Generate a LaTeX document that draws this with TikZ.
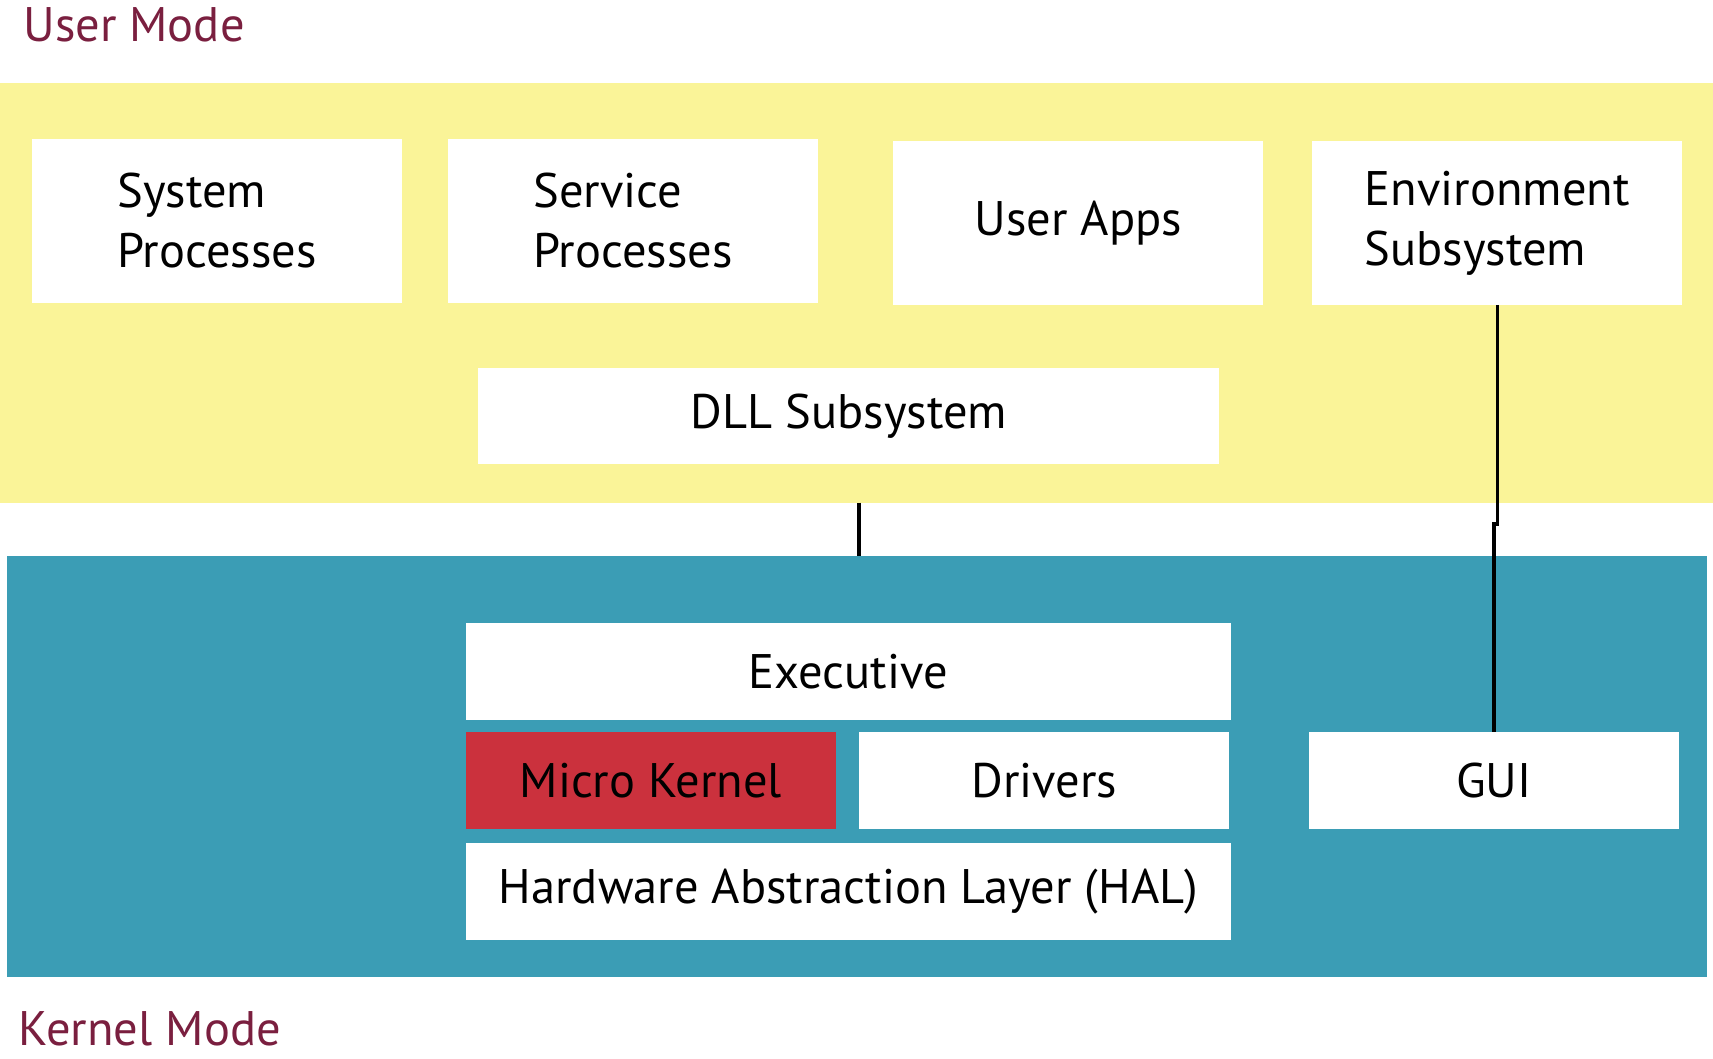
\documentclass[tikz,border=0pt]{standalone}
\usepackage{fontspec}
\setmainfont{PT Sans}
\usetikzlibrary{positioning}
\definecolor{userfill}{HTML}{FAF498}
\definecolor{kernelfill}{HTML}{3B9DB5}
\definecolor{kernelred}{HTML}{CB313D}
\definecolor{modetext}{HTML}{7A1F3F}
\tikzset{
	every node/.append style={
		inner sep=0pt,
		outer sep=0pt,
		font=\fontsize{48.5}{60}\selectfont,
	},
	band/.append style={
		draw=none,
		minimum width=1700pt,
	},
	layer/.append style={
		fill=white,
		align=center,
		minimum width=370pt,
		minimum height=97pt,
	},
	tall/.append style={
		align=left,
		minimum height=164pt,
	},
	wide/.append style={
		minimum width=765pt,
	},
	modelbl/.append style={
		text=modetext,
		anchor=base west,
	},
	link/.append style={
		line width=3.4pt,
	}
}

\begin{document}
\begin{tikzpicture}[x=1pt, y=1pt]
		\useasboundingbox (0,0) rectangle (1713,1059);
		
		\node(user)[band, fill=userfill, minimum width=1713pt, minimum height=419.6pt] at (856.5,766.2) {};
		\node(kernel)[band, fill=kernelfill, minimum height=421pt] at (856.6,292.5) {};
		
		\node(usrlbl)[modelbl] at (23.5,1017.3) {User Mode};
		\node(krnlbl)[modelbl] at (19,13.5) {Kernel Mode};
		
		\node(sysproc)[layer, tall] at (216.9,838.3) {System\\Processes};
		\node(svcproc)[layer, tall, right=46pt of sysproc] {Service\\Processes};
		\node(apps)[layer, tall] at (1078.3,836.1) {User Apps};
		\node(env)[layer, tall] at (1497.3,836.1) {Environment\\Subsystem};
		\node(dll)[layer, minimum width=741pt, minimum height=96pt] at (848.9,642.7) {DLL Subsystem};
		
		\node(exec)[layer, wide] at (848.4,387) {Executive};
		\node(micro)[layer, fill=kernelred, below right=11.4pt and 0pt of exec.south west] {Micro Kernel};
		\node(drivers)[layer, right=23.5pt of micro] {Drivers};
		\node(hal)[layer, wide, below right=14pt and 0pt of micro.south west] {Hardware Abstraction Layer (HAL)};
		\node(gui)[layer] at (1494,278.5) {GUI};
		
		\coordinate(dlltap) at (859,556.4);
		\coordinate(jog) at (1497.3,535);
		
		\draw[link] (dlltap) -- (dlltap |- kernel.north);
		\draw[link] (env.south) -- (jog) -| (gui.north);
		
\end{tikzpicture}
\end{document}
